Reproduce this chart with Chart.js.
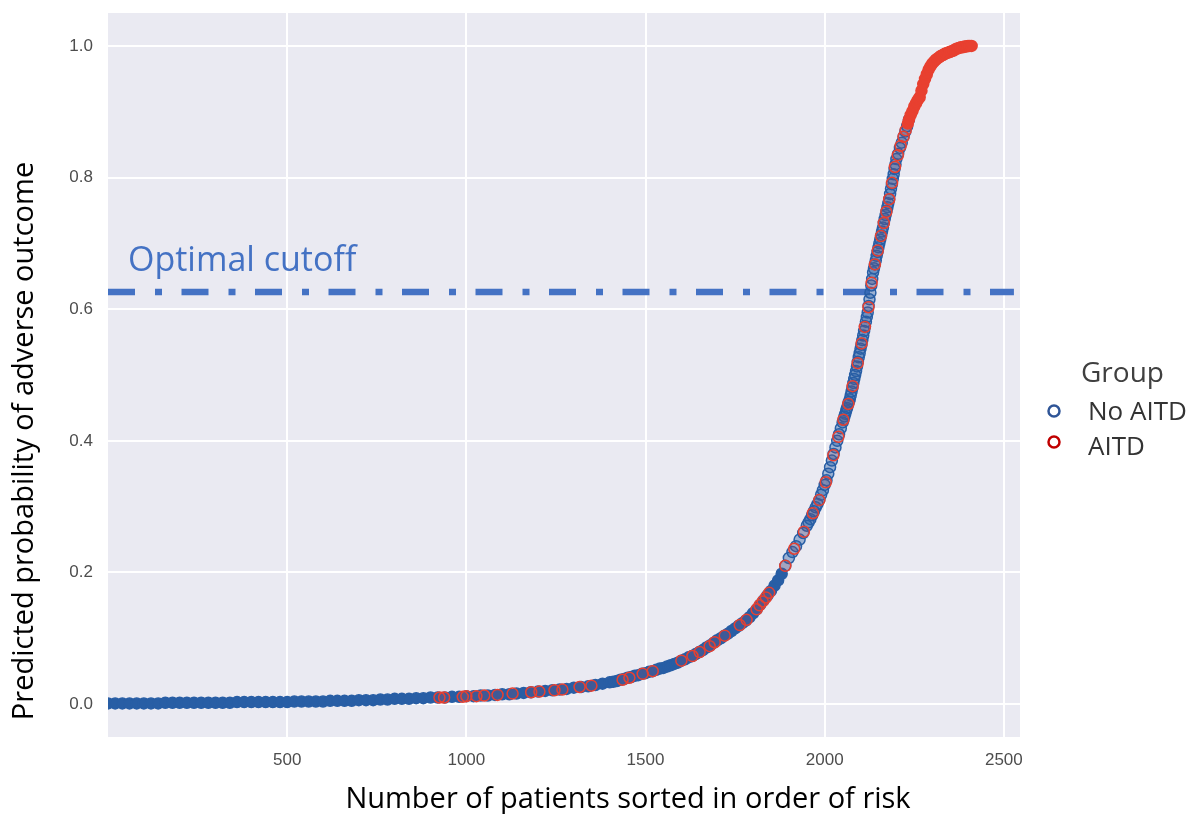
<!DOCTYPE html>
<html>
<head>
<meta charset="utf-8">
<title>Predicted probability of adverse outcome</title>
<script src="https://cdn.jsdelivr.net/npm/chart.js@4.4.1/dist/chart.umd.min.js"></script>
<style>
  html, body { margin: 0; padding: 0; background: #fff; }
  #wrap { position: relative; width: 1190px; height: 814px; }
</style>
</head>
<body>
<div id="wrap"><canvas id="chart"></canvas></div>
<script>
// Ejes
const xTicks = [500, 1000, 1500, 2000, 2500];
const yTicks = [0, 0.2, 0.4, 0.6, 0.8, 1.0];
const xRange = [0, 2545];
const yRange = [-0.05, 1.05];
const cutoff = 0.626;
const groups = ['No AITD', 'AITD'];

// Pacientes sin AITD (posicion en el orden de riesgo, probabilidad)
const blueX = [
  0, 20, 40, 60, 80, 100, 120, 140, 160, 180,
  200, 220, 240, 260, 280, 300, 320, 340, 360, 380,
  400, 420, 440, 460, 480, 500, 520, 540, 560, 580,
  600, 620, 640, 660, 680, 700, 720, 740, 760, 780,
  800, 820, 840, 860, 880, 900, 920, 940, 960, 980,
  1000, 1020, 1040, 1060, 1080, 1100, 1120, 1140, 1160, 1180,
  1200, 1220, 1240, 1260, 1280, 1300, 1320, 1340, 1360, 1380,
  1400, 1410, 1420, 1430, 1440, 1450, 1460, 1470, 1480, 1490,
  1500, 1510, 1520, 1530, 1540, 1550, 1560, 1570, 1580, 1590,
  1600, 1610, 1620, 1630, 1640, 1650, 1660, 1670, 1680, 1690,
  1700, 1710, 1720, 1730, 1740, 1750, 1760, 1770, 1780, 1790,
  1800, 1810, 1820, 1830, 1840, 1850, 1860, 1870, 1880, 1890,
  1900, 1910, 1920, 1930, 1940, 1950, 1955, 1960, 1965, 1970,
  1975, 1980, 1985, 1990, 1995, 2000, 2005, 2010, 2015, 2020,
  2025, 2030, 2035, 2040, 2045, 2050, 2052.5, 2055, 2057.5, 2060,
  2062.5, 2065, 2067.5, 2070, 2072.5, 2075, 2077.5, 2080, 2082.5, 2085,
  2087.5, 2090, 2092.5, 2095, 2097.5, 2100, 2102.5, 2105, 2107.5, 2110,
  2112.5, 2115, 2117.5, 2120, 2122.5, 2125, 2127.5, 2130, 2132.5, 2135,
  2137.5, 2140, 2142.5, 2145, 2147.5, 2150, 2152.5, 2155, 2157.5, 2160,
  2162.5, 2165, 2167.5, 2170, 2172.5, 2175, 2177.5, 2180, 2182.5, 2185,
  2187.5, 2190, 2192.5, 2195, 2197.5, 2200, 2205, 2210, 2215, 2220,
  2225, 2230, 2235
];
const blueY = [
  0.001, 0.001, 0.001, 0.001, 0.001, 0.001, 0.001, 0.001, 0.002, 0.002,
  0.002, 0.002, 0.002, 0.002, 0.002, 0.002, 0.002, 0.002, 0.003, 0.003,
  0.003, 0.003, 0.003, 0.003, 0.003, 0.003, 0.004, 0.004, 0.004, 0.004,
  0.004, 0.005, 0.005, 0.005, 0.005, 0.006, 0.006, 0.006, 0.007, 0.007,
  0.008, 0.008, 0.008, 0.009, 0.009, 0.010, 0.010, 0.010, 0.011, 0.011,
  0.012, 0.012, 0.013, 0.013, 0.014, 0.015, 0.015, 0.016, 0.017, 0.018,
  0.019, 0.020, 0.021, 0.022, 0.023, 0.025, 0.026, 0.027, 0.029, 0.031,
  0.033, 0.034, 0.035, 0.037, 0.038, 0.040, 0.041, 0.043, 0.044, 0.046,
  0.047, 0.049, 0.050, 0.052, 0.054, 0.055, 0.057, 0.059, 0.061, 0.063,
  0.066, 0.068, 0.071, 0.073, 0.076, 0.079, 0.082, 0.086, 0.089, 0.093,
  0.097, 0.100, 0.104, 0.107, 0.111, 0.115, 0.119, 0.123, 0.127, 0.132,
  0.138, 0.144, 0.151, 0.158, 0.165, 0.172, 0.180, 0.188, 0.198, 0.210,
  0.222, 0.231, 0.240, 0.250, 0.260, 0.271, 0.276, 0.281, 0.287, 0.293,
  0.299, 0.304, 0.310, 0.318, 0.325, 0.333, 0.340, 0.350, 0.360, 0.370,
  0.380, 0.390, 0.400, 0.410, 0.419, 0.428, 0.432, 0.437, 0.441, 0.446,
  0.450, 0.455, 0.459, 0.463, 0.469, 0.475, 0.481, 0.488, 0.494, 0.500,
  0.506, 0.513, 0.520, 0.527, 0.533, 0.540, 0.546, 0.553, 0.560, 0.567,
  0.574, 0.581, 0.588, 0.595, 0.605, 0.615, 0.625, 0.636, 0.646, 0.656,
  0.662, 0.668, 0.674, 0.681, 0.687, 0.694, 0.700, 0.706, 0.712, 0.718,
  0.724, 0.731, 0.737, 0.743, 0.749, 0.755, 0.761, 0.767, 0.775, 0.783,
  0.790, 0.798, 0.805, 0.813, 0.820, 0.828, 0.836, 0.845, 0.853, 0.862,
  0.870, 0.878, 0.888
];

// Pacientes con AITD
const redX = [
  925, 938, 990, 1000, 1028, 1050, 1087, 1129, 1181, 1204,
  1246, 1268, 1316, 1349, 1436, 1455, 1492, 1520, 1600, 1631,
  1651, 1679, 1693, 1721, 1763, 1782, 1810, 1818, 1827, 1836,
  1845, 1890, 1915, 1942, 1967, 1985, 2003, 2024, 2038, 2052,
  2066, 2078, 2092, 2103, 2112, 2122, 2131, 2140, 2148, 2157,
  2165, 2172, 2180, 2188, 2196, 2204, 2212, 2220, 2226, 2232,
  2235, 2240, 2245, 2250, 2255, 2260, 2265, 2270, 2275, 2280,
  2285, 2290, 2295, 2300, 2305, 2310, 2315, 2320, 2325, 2330,
  2335, 2340, 2345, 2350, 2355, 2360, 2365, 2370, 2375, 2380,
  2385, 2390, 2395, 2400, 2405, 2410
];
const redY = [
  0.010, 0.010, 0.011, 0.012, 0.012, 0.013, 0.014, 0.016, 0.018, 0.019,
  0.021, 0.022, 0.026, 0.028, 0.037, 0.040, 0.046, 0.050, 0.066, 0.073,
  0.079, 0.088, 0.094, 0.104, 0.120, 0.128, 0.144, 0.150, 0.156, 0.162,
  0.169, 0.210, 0.236, 0.262, 0.290, 0.310, 0.337, 0.378, 0.406, 0.432,
  0.456, 0.483, 0.518, 0.548, 0.573, 0.603, 0.640, 0.668, 0.689, 0.711,
  0.731, 0.748, 0.767, 0.792, 0.816, 0.834, 0.848, 0.862, 0.872, 0.882,
  0.888, 0.895, 0.901, 0.908, 0.913, 0.918, 0.922, 0.932, 0.942, 0.950,
  0.957, 0.964, 0.969, 0.973, 0.976, 0.979, 0.981, 0.983, 0.985, 0.986,
  0.988, 0.989, 0.990, 0.991, 0.992, 0.993, 0.995, 0.996, 0.997, 0.998,
  0.998, 0.999, 0.999, 1.000, 1.000, 1.000
];

const BLUE = 'rgb(40, 94, 165)';
const RED = 'rgb(232, 64, 48)';
const CUT_BLUE = '#4472C4';
const TITLE_FONT = '"Open Sans", Carlito, sans-serif';

// Fondo gris del area del grafico
const fondo = {
  id: 'fondo',
  beforeDraw(chart) {
    const { ctx, chartArea: a } = chart;
    ctx.save();
    ctx.fillStyle = '#eaeaf2';
    ctx.fillRect(a.left, a.top, a.right - a.left, a.bottom - a.top);
    ctx.restore();
  }
};

// Titulos, etiqueta del corte y leyenda
const textos = {
  id: 'textos',
  afterDraw(chart) {
    const { ctx, chartArea: a } = chart;
    const yScale = chart.scales.y;
    ctx.save();
    ctx.textBaseline = 'alphabetic';

    // titulo eje x
    ctx.fillStyle = '#000';
    ctx.font = '29px ' + TITLE_FONT;
    ctx.textAlign = 'center';
    ctx.fillText('Number of patients sorted in order of risk', 628, 808);

    // titulo eje y
    ctx.save();
    ctx.translate(33, 441);
    ctx.rotate(-Math.PI / 2);
    ctx.fillText('Predicted probability of adverse outcome', 0, 0);
    ctx.restore();

    // etiqueta del corte optimo
    ctx.textAlign = 'left';
    ctx.fillStyle = CUT_BLUE;
    ctx.font = '34px ' + TITLE_FONT;
    ctx.fillText('Optimal cutoff', a.left + 20, yScale.getPixelForValue(cutoff) - 21);

    // leyenda
    ctx.fillStyle = '#404040';
    ctx.font = '28px ' + TITLE_FONT;
    ctx.fillText('Group', 1081, 382);
    const marks = [
      { color: '#2f5597', cy: 411, ty: 420 },
      { color: '#c00000', cy: 442, ty: 455 }
    ];
    ctx.font = '26px ' + TITLE_FONT;
    groups.forEach((g, i) => {
      const m = marks[i];
      ctx.beginPath();
      ctx.arc(1054, m.cy, 5.5, 0, Math.PI * 2);
      ctx.lineWidth = 2.5;
      ctx.strokeStyle = m.color;
      ctx.stroke();
      ctx.fillStyle = '#333';
      ctx.fillText(g, 1088, m.ty);
    });
    ctx.restore();
  }
};

const toPoints = (xs, ys) => xs.map((x, i) => ({ x: x, y: ys[i] }));

// quitar el relleno que Chart.js reserva para las etiquetas de los extremos
const sinRelleno = s => { s.paddingTop = 0; s.paddingBottom = 0; s.paddingLeft = 0; s.paddingRight = 0; };

new Chart(document.getElementById('chart'), {
  type: 'scatter',
  data: {
    datasets: [
      {
        label: groups[1],
        data: toPoints(redX, redY),
        order: 0,
        clip: 0,
        pointRadius: 5.5,
        borderWidth: 1.5,
        borderColor: RED,
        backgroundColor: c => (c.raw && c.raw.y > 0.88 ? RED : 'rgba(232, 64, 48, 0.12)')
      },
      {
        label: groups[0],
        data: toPoints(blueX, blueY),
        order: 1,
        clip: 0,
        pointRadius: 5.5,
        borderWidth: 1.5,
        borderColor: BLUE,
        backgroundColor: c => (c.raw && c.raw.y < 0.2 ? BLUE : 'rgba(40, 94, 165, 0.4)')
      },
      {
        type: 'line',
        label: 'cutoff',
        data: [{ x: xRange[0], y: cutoff }, { x: 2528, y: cutoff }],
        order: 2,
        clip: 0,
        borderColor: CUT_BLUE,
        borderWidth: 6.5,
        borderDash: [27, 20, 7, 19.5],
        borderCapStyle: 'butt',
        pointRadius: 0,
        fill: false
      }
    ]
  },
  options: {
    responsive: true,
    maintainAspectRatio: false,
    animation: false,
    events: [],
    layout: { padding: { top: 13, right: 170, left: 0, bottom: 0 } },
    plugins: {
      legend: { display: false },
      tooltip: { enabled: false }
    },
    scales: {
      x: {
        type: 'linear',
        min: xRange[0],
        max: xRange[1],
        afterFit: s => { s.height = 77; sinRelleno(s); },
        afterBuildTicks: s => { s.ticks = xTicks.map(v => ({ value: v })); },
        grid: { color: '#ffffff', lineWidth: 2, drawTicks: false },
        border: { display: false },
        ticks: {
          padding: 13,
          maxRotation: 0,
          autoSkip: false,
          color: '#4d4d4d',
          font: { family: 'Liberation Sans, Arial, sans-serif', size: 17 },
          callback: v => String(v)
        }
      },
      y: {
        type: 'linear',
        min: yRange[0],
        max: yRange[1],
        afterFit: s => { s.width = 108; sinRelleno(s); },
        afterBuildTicks: s => { s.ticks = yTicks.map(v => ({ value: v })); },
        grid: { color: '#ffffff', lineWidth: 2, drawTicks: false },
        border: { display: false },
        ticks: {
          padding: 15,
          autoSkip: false,
          color: '#4d4d4d',
          font: { family: 'Liberation Sans, Arial, sans-serif', size: 17 },
          callback: v => v.toFixed(1)
        }
      }
    }
  },
  plugins: [fondo, textos]
});
</script>
</body>
</html>
